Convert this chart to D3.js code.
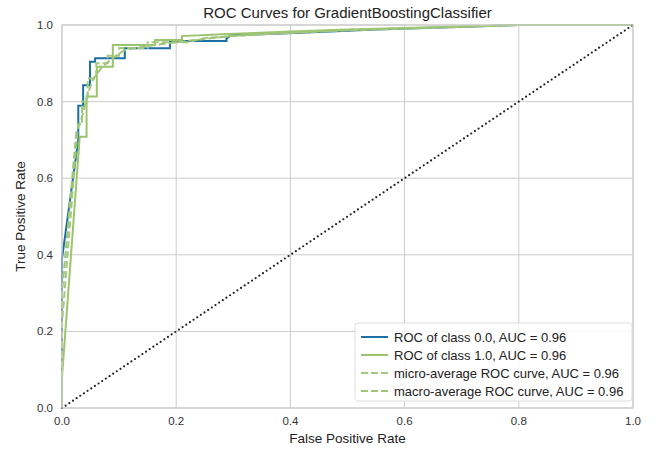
<!DOCTYPE html>
<html><head><meta charset="utf-8">
<script src="https://cdn.jsdelivr.net/npm/d3@7"></script>
<style>body{margin:0;background:#fff;} text{font-family:"Liberation Sans",Arial,sans-serif;}</style>
</head><body><svg id="c" width="654" height="450"></svg>
<script>
const title = "ROC Curves for GradientBoostingClassifier";
const xLabel = "False Positive Rate";
const yLabel = "True Positive Rate";
const ticks = [0, 0.2, 0.4, 0.6, 0.8, 1.0];

const class0Fpr = [0,0,0.0285,0.0285,0.037,0.037,0.049,0.049,0.058,0.058,0.110,0.110,0.189,0.189,0.288,0.288,0.297,0.35,0.45,0.55,0.65,0.72,0.80,1.0];
const class0Tpr = [0,0.39,0.70,0.789,0.789,0.843,0.843,0.904,0.904,0.913,0.913,0.939,0.939,0.958,0.958,0.965,0.974,0.976,0.982,0.988,0.993,0.996,1.0,1.0];

const class1Fpr = [0,0,0.031,0.043,0.043,0.061,0.061,0.089,0.089,0.163,0.163,0.21,0.21,0.30,0.40,0.50,0.60,0.70,0.80,1.0];
const class1Tpr = [0,0.08,0.708,0.708,0.813,0.813,0.891,0.891,0.948,0.948,0.961,0.961,0.971,0.977,0.983,0.988,0.992,0.996,1.0,1.0];

const microFpr = [0,0,0.028,0.035,0.035,0.045,0.045,0.06,0.06,0.08,0.08,0.10,0.10,0.15,0.15,0.22,0.25,0.35,0.50,0.65,0.80,1.0];
const microTpr = [0,0.22,0.74,0.74,0.80,0.80,0.86,0.86,0.90,0.90,0.92,0.92,0.94,0.94,0.955,0.955,0.966,0.976,0.986,0.993,1.0,1.0];

const macroFpr = [0,0,0.025,0.035,0.045,0.055,0.07,0.09,0.11,0.15,0.20,0.30,0.50,0.80,1.0];
const macroTpr = [0,0.30,0.72,0.76,0.82,0.86,0.89,0.915,0.935,0.945,0.955,0.972,0.987,1.0,1.0];

const seriesNames = ["ROC of class 0.0, AUC = 0.96","ROC of class 1.0, AUC = 0.96","micro-average ROC curve, AUC = 0.96","macro-average ROC curve, AUC = 0.96"];
const seriesColors = ["#1b6ea3","#9cc46f","#a3c97d","#9fc576"];

const W=654,H=450,m={l:62,r:21,t:25,b:42};
const svg=d3.select("#c");
const x=d3.scaleLinear().domain([0,1]).range([m.l,W-m.r]);
const y=d3.scaleLinear().domain([0,1]).range([H-m.b,m.t]);

// grid
const g=svg.append("g");
g.selectAll(".gx").data(ticks).join("line").attr("x1",d=>x(d)).attr("x2",d=>x(d)).attr("y1",y(0)).attr("y2",y(1)).attr("stroke","#cccccc").attr("stroke-width",1);
g.selectAll(".gy").data(ticks).join("line").attr("y1",d=>y(d)).attr("y2",d=>y(d)).attr("x1",x(0)).attr("x2",x(1)).attr("stroke","#cccccc").attr("stroke-width",1);

svg.append("defs").append("clipPath").attr("id","pc").append("rect").attr("x",x(0)-2).attr("y",y(1)-2).attr("width",x(1)-x(0)+4).attr("height",y(0)-y(1)+4);

const line=d3.line().x(d=>x(d[0])).y(d=>y(d[1]));
const series=[
 {fpr:class0Fpr,tpr:class0Tpr,dash:null},
 {fpr:class1Fpr,tpr:class1Tpr,dash:null},
 {fpr:microFpr,tpr:microTpr,dash:"7,3"},
 {fpr:macroFpr,tpr:macroTpr,dash:"7,3"}
];
const pg=svg.append("g").attr("clip-path","url(#pc)");
series.forEach((s,i)=>{
  const pts=s.fpr.map((f,j)=>[f,s.tpr[j]]);
  pg.append("path").attr("d",line(pts)).attr("fill","none").attr("stroke",seriesColors[i]).attr("stroke-width",2).attr("stroke-dasharray",s.dash).attr("stroke-linejoin","miter");
});
pg.append("path").attr("d",line([[0,0],[1,1]])).attr("fill","none").attr("stroke","#222").attr("stroke-width",2.2).attr("stroke-dasharray","0,4.4").attr("stroke-linecap","round");

// frame
svg.append("rect").attr("x",x(0)).attr("y",y(1)).attr("width",x(1)-x(0)).attr("height",y(0)-y(1)).attr("fill","none").attr("stroke","#cccccc").attr("stroke-width",1.2);

// tick labels
svg.selectAll(".xt").data(ticks).join("text").attr("x",d=>x(d)).attr("y",y(0)+17).attr("text-anchor","middle").attr("font-size",11.5).attr("fill","#333").text(d=>d.toFixed(1));
svg.selectAll(".yt").data(ticks).join("text").attr("x",x(0)-9).attr("y",d=>y(d)+4).attr("text-anchor","end").attr("font-size",11.5).attr("fill","#333").text(d=>d.toFixed(1));

svg.append("text").attr("x",(x(0)+x(1))/2).attr("y",443).attr("text-anchor","middle").attr("font-size",13.5).attr("fill","#222").text(xLabel);
svg.append("text").attr("transform",`translate(25,${(y(0)+y(1))/2}) rotate(-90)`).attr("text-anchor","middle").attr("font-size",13.5).attr("fill","#222").text(yLabel);
svg.append("text").attr("x",(x(0)+x(1))/2).attr("y",18).attr("text-anchor","middle").attr("font-size",15).attr("fill","#222").text(title);

// legend
const lg=svg.append("g").attr("transform","translate(355,323)");
lg.append("rect").attr("width",277).attr("height",78).attr("rx",3).attr("fill","#fff").attr("fill-opacity",0.85).attr("stroke","#dddddd");
seriesNames.forEach((n,i)=>{
  const yy=14+i*18;
  lg.append("line").attr("x1",6).attr("x2",33).attr("y1",yy).attr("y2",yy).attr("stroke",seriesColors[i]).attr("stroke-width",2).attr("stroke-dasharray",series[i].dash);
  lg.append("text").attr("x",39).attr("y",yy+4.5).attr("font-size",13).attr("fill","#222").text(n);
});
</script></body></html>
